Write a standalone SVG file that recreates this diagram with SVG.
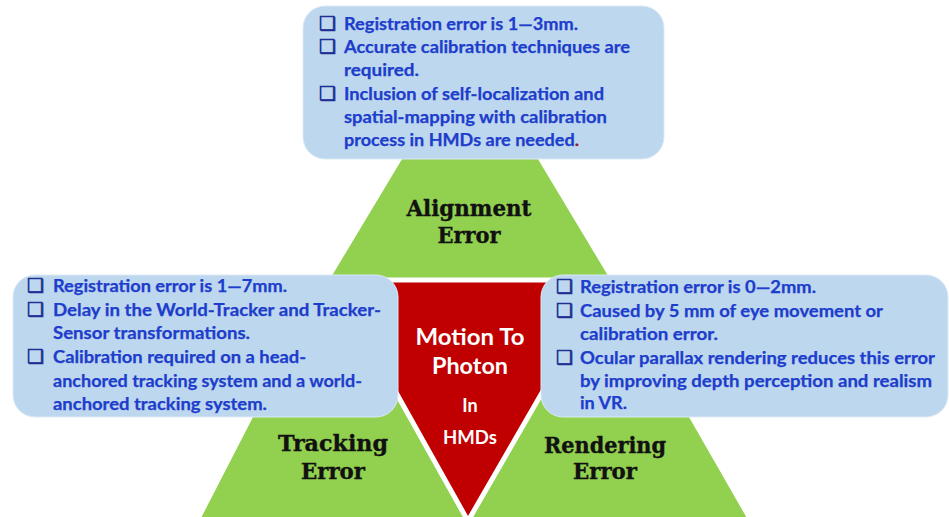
<svg xmlns="http://www.w3.org/2000/svg" width="949" height="517" viewBox="0 0 949 517">
<style>
.green{fill:#92D050}
.red{fill:#C00000;stroke:#FFFFFF;stroke-width:5;stroke-linejoin:miter}
.box{fill:#BDD7EE;stroke:#DCE9F6;stroke-width:1}
.t{font-family:Lato,"Liberation Sans",sans-serif;font-weight:bold;font-size:16.5px;fill:#1D3DCC;stroke:#1D3DCC;stroke-width:0.25}
.b{font-family:"DejaVu Sans",sans-serif;font-size:19px;fill:#1F2F95;stroke:#1F2F95;stroke-width:0.7}
.lab{font-family:"DejaVu Serif",serif;font-weight:bold;font-size:23px;fill:#111111;stroke:#111111;stroke-width:0.4;text-anchor:middle}
.w{font-family:Lato,"Liberation Sans",sans-serif;font-weight:bold;fill:#FFFFFF;text-anchor:middle}
</style>
<rect width="949" height="517" fill="#FFFFFF"/>
<g id="tracking-error">
<polygon class="green" points="323,281 200,520 476,520 346,281"/>
<text class="lab" x="333" y="451" textLength="110" lengthAdjust="spacingAndGlyphs">Tracking</text>
<text class="lab" x="333" y="479" textLength="64" lengthAdjust="spacingAndGlyphs">Error</text>
</g>
<g id="rendering-error">
<polygon class="green" points="594,281 462,520 748,520 611,281"/>
<text class="lab" x="605" y="453" textLength="122" lengthAdjust="spacingAndGlyphs">Rendering</text>
<text class="lab" x="605" y="479" textLength="64" lengthAdjust="spacingAndGlyphs">Error</text>
</g>
<g id="alignment-error">
<polygon class="green" points="470,46 330,279 610,279"/>
<text class="lab" x="469" y="216" textLength="125" lengthAdjust="spacingAndGlyphs">Alignment</text>
<text class="lab" x="469" y="243" textLength="63" lengthAdjust="spacingAndGlyphs">Error</text>
</g>
<g id="motion-to-photon">
<polygon class="red" points="333,280 607,280 468,521"/>
<text class="w" x="470" y="345" font-size="23" textLength="109" lengthAdjust="spacingAndGlyphs">Motion To</text>
<text class="w" x="470" y="374" font-size="23" textLength="76" lengthAdjust="spacingAndGlyphs">Photon</text>
<text class="w" x="470" y="412" font-size="18">In</text>
<text class="w" x="470" y="444" font-size="18" textLength="54" lengthAdjust="spacingAndGlyphs">HMDs</text>
</g>
<g id="alignment-notes">
<rect class="box" x="303" y="6" width="361" height="153" rx="22"/>
<text class="b" x="319" y="30">❑</text>
<text class="b" x="319" y="53">❑</text>
<text class="b" x="319" y="100">❑</text>
<text class="t" x="344" y="30" textLength="234" lengthAdjust="spacingAndGlyphs">Registration error is 1—3mm.</text>
<text class="t" x="344" y="53" textLength="286" lengthAdjust="spacingAndGlyphs">Accurate calibration techniques are</text>
<text class="t" x="344" y="76" textLength="75" lengthAdjust="spacingAndGlyphs">required.</text>
<text class="t" x="344" y="100" textLength="260" lengthAdjust="spacingAndGlyphs">Inclusion of self-localization and</text>
<text class="t" x="344" y="123" textLength="263" lengthAdjust="spacingAndGlyphs">spatial-mapping with calibration</text>
<text class="t" x="344" y="146" textLength="235" lengthAdjust="spacingAndGlyphs">process in HMDs are needed<tspan fill="#8B1A2A" stroke="#8B1A2A">.</tspan></text>
</g>
<g id="tracking-notes">
<rect class="box" x="13" y="275" width="385" height="142" rx="22"/>
<text class="b" x="27" y="292">❑</text>
<text class="b" x="27" y="316">❑</text>
<text class="b" x="27" y="363">❑</text>
<text class="t" x="53" y="292" textLength="234" lengthAdjust="spacingAndGlyphs">Registration error is 1—7mm.</text>
<text class="t" x="53" y="316" textLength="328" lengthAdjust="spacingAndGlyphs">Delay in the World-Tracker and Tracker-</text>
<text class="t" x="53" y="339" textLength="197" lengthAdjust="spacingAndGlyphs">Sensor transformations.</text>
<text class="t" x="53" y="363" textLength="253" lengthAdjust="spacingAndGlyphs">Calibration required on a head-</text>
<text class="t" x="53" y="387" textLength="309" lengthAdjust="spacingAndGlyphs">anchored tracking system and a world-</text>
<text class="t" x="53" y="410" textLength="214" lengthAdjust="spacingAndGlyphs">anchored tracking system.</text>
</g>
<g id="rendering-notes">
<rect class="box" x="541" y="275" width="407" height="142" rx="22"/>
<text class="b" x="556" y="293">❑</text>
<text class="b" x="556" y="317">❑</text>
<text class="b" x="556" y="364">❑</text>
<text class="t" x="580" y="293" textLength="236" lengthAdjust="spacingAndGlyphs">Registration error is 0—2mm.</text>
<text class="t" x="580" y="317" textLength="303" lengthAdjust="spacingAndGlyphs">Caused by 5 mm of eye movement or</text>
<text class="t" x="580" y="340" textLength="138" lengthAdjust="spacingAndGlyphs">calibration error.</text>
<text class="t" x="580" y="364" textLength="355" lengthAdjust="spacingAndGlyphs">Ocular parallax rendering reduces this error</text>
<text class="t" x="580" y="387" textLength="352" lengthAdjust="spacingAndGlyphs">by improving depth perception and realism</text>
<text class="t" x="580" y="409" textLength="47" lengthAdjust="spacingAndGlyphs">in VR.</text>
</g>
<g id="connectors"></g>
</svg>
